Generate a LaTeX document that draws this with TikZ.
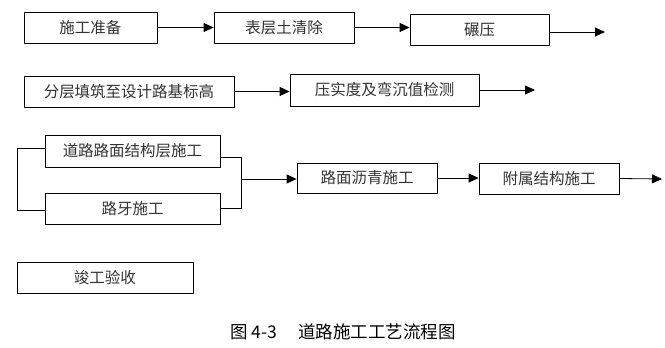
\documentclass[tikz,border=0pt]{standalone}
\usepackage{fontspec}
\setmainfont{Noto Sans CJK SC}
\usetikzlibrary{arrows.meta,positioning}
\definecolor{boxtext}{HTML}{333333}
\tikzset{
  stage/.style={draw=black,line width=0.8pt,fill=white,inner sep=0pt,font=\fontsize{15.5}{18}\selectfont,text=boxtext},
  arr/.style={-{Triangle[length=10pt,width=9pt]},draw=black,line width=0.8pt},
  link/.style={draw=black,line width=0.8pt},
  caption/.style={font=\fontsize{17.5}{20}\selectfont,text=black}
}

\begin{document}
\begin{tikzpicture}[x=1pt,y=-1pt]
\path[use as bounding box] (0,0) rectangle (665,348);
\node[stage,minimum width=133pt,minimum height=31pt] (prep) at (90.5,27.5) {施工准备};
\node[stage,minimum width=140pt,minimum height=31pt] (clear) at (284,27.5) {表层土清除};
\node[stage,minimum width=139pt,minimum height=31pt] (roll) at (479.5,29.5) {碾压};
\node[stage,minimum width=210pt,minimum height=31pt] (fill) at (129,91.5) {分层填筑至设计路基标高};
\node[stage,minimum width=189pt,minimum height=32pt] (test) at (384.5,90) {压实度及弯沉值检测};
\node[stage,minimum width=175pt,minimum height=32pt] (pave) at (132.5,151) {道路路面结构层施工};
\node[stage,minimum width=175pt,minimum height=31pt] (curb) at (132.5,208.5) {路牙施工};
\node[stage,minimum width=140pt,minimum height=30pt] (asph) at (367,178) {路面沥青施工};
\node[stage,minimum width=140pt,minimum height=31pt] (acc) at (549,178.5) {附属结构施工};
\node[stage,minimum width=176pt,minimum height=31pt] (done) at (105,277.5) {竣工验收};

\coordinate (rollend) at (605,32);
\coordinate (testend) at (535,90);
\coordinate (join) at (241,179);
\coordinate (brk) at (17,0);
\coordinate (accend) at (662,179);

\draw[arr] (prep.east) -- (clear.west);
\draw[arr] (clear.east) -- (clear.east -| roll.west);
\draw[arr] (roll.east |- rollend) -- (rollend);
\draw[arr] (fill.east) -- (fill.east -| test.west);
\draw[arr] (test.east) -- (testend);
\draw[link] ([yshift=3pt]pave.west) -- ([yshift=3pt]pave.west -| brk) -- ([yshift=-1.5pt]curb.west -| brk) -- ([yshift=-1.5pt]curb.west);
\draw[link] ([yshift=-6pt]pave.east) -| (join |- curb.east) -- (curb.east);
\draw[arr] (join) -- (join -| asph.west);
\draw[arr] (asph.east) -- (asph.east -| acc.west);
\draw[arr] (acc.east) -- (accend);

\node[caption] (cap) at (343,332) {图 4-3\hspace{1.2em}道路施工工艺流程图};
\end{tikzpicture}
\end{document}
